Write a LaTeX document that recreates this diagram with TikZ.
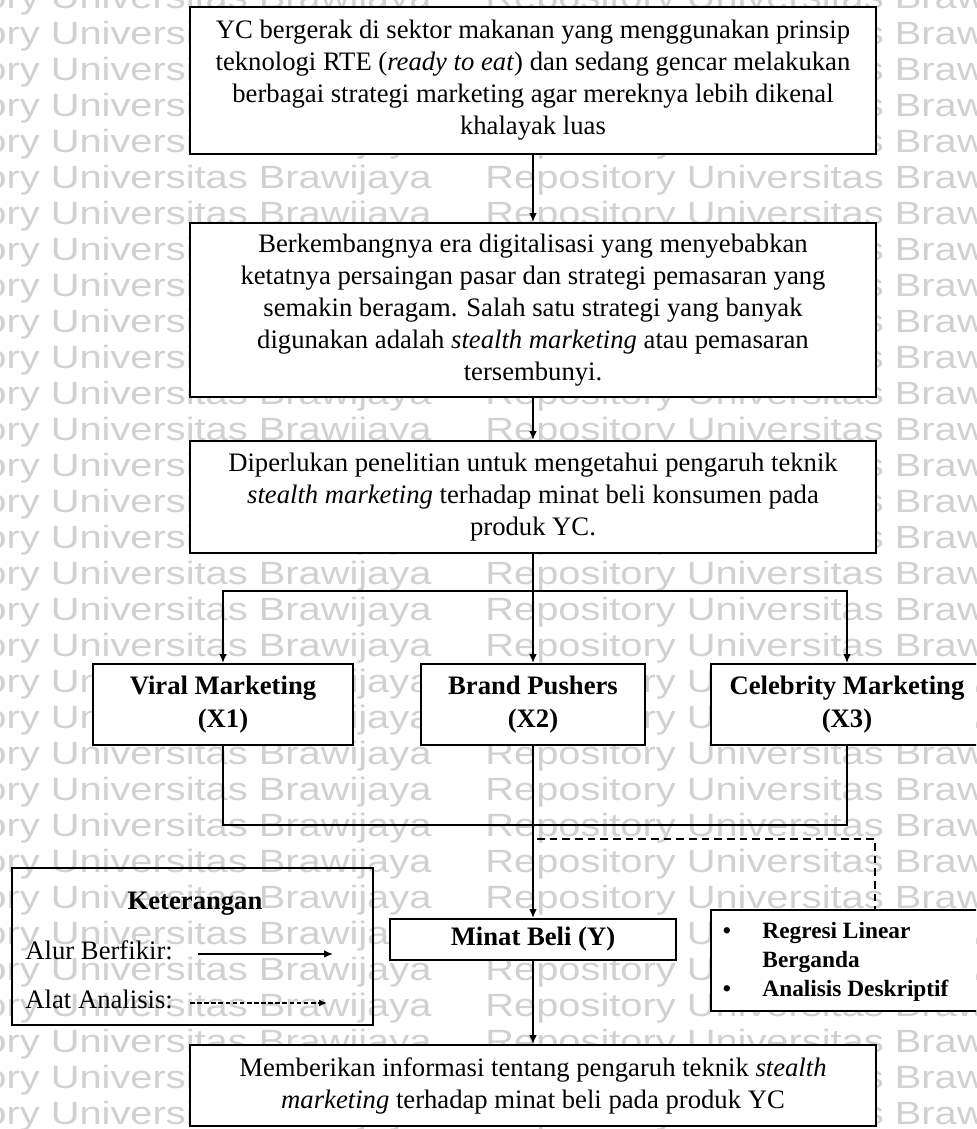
\documentclass[tikz,border=0pt]{standalone}
\usepackage{fontspec}
\setmainfont{Liberation Serif}
\newfontfamily\wmfont[FakeStretch=1.236]{Liberation Sans}
\usetikzlibrary{arrows.meta,calc}
\tikzset{
  wh/.style 2 args={minimum width=#1*0.45pt, minimum height=#2*0.45pt},
  box/.style={draw, line width=0.9pt, fill=white, inner sep=0pt, align=center,
    font=\fontsize{12}{14.4}\selectfont},
  legendbox/.style={draw, line width=0.9pt, inner sep=0pt},
  conn/.style={line width=0.7pt},
  arr/.style={conn, -{Latex[length=4pt,width=3.4pt]}},
  dashline/.style={line width=0.9pt, dash pattern=on 3.4pt off 2.3pt},
  legdash/.style={line width=0.7pt, dash pattern=on 2.1pt off 1.1pt, -{Latex[length=3.6pt,width=3.2pt]}},
  wm/.style={inner sep=0pt, text=black!18, font=\wmfont\fontsize{14.5}{14.5}\selectfont},
  txt/.style={inner sep=0pt, font=\fontsize{12}{14.4}\selectfont},
  rtxt/.style={inner sep=0pt, font=\fontsize{10.5}{13}\selectfont\bfseries},
}
\begin{document}
\begin{tikzpicture}[x=0.45pt,y=-0.45pt]
\useasboundingbox (0,0) rectangle (976,1129);
\clip (0,0) rectangle (976,1129);
\fill[white] (0,0) rectangle (976,1129);
% watermark
\foreach \k in {-5,...,26}{
  \node[wm, anchor=base west] (wma\k) at (-151,{188.5+36*\k}) {Repository Universitas Brawijaya};
  \node[wm, anchor=base west] (wmb\k) at (485,{188.5+36*\k}) {Repository Universitas Brawijaya};
}
% main boxes
\node[box, wh={686}{147}] (b1) at (533,80.5) {YC bergerak di sektor makanan yang menggunakan prinsip\\
teknologi RTE (\textit{ready to eat}) dan sedang gencar melakukan\\
berbagai strategi marketing agar mereknya lebih dikenal\\
khalayak luas};
\node[box, wh={686}{174}] (b2) at (533,310) {Berkembangnya era digitalisasi yang menyebabkan\\
ketatnya persaingan pasar dan strategi pemasaran yang\\
semakin beragam. Salah satu strategi yang banyak\\
digunakan adalah \textit{stealth marketing} atau pemasaran\\
tersembunyi.};
\node[box, wh={686}{112}] (b3) at (533,497) {Diperlukan penelitian untuk mengetahui pengaruh teknik\\
\textit{stealth marketing} terhadap minat beli konsumen pada\\
produk YC.};
\node[box, wh={260}{81}, font=\fontsize{12}{15}\selectfont\bfseries] (x1) at (223,704.5) {Viral Marketing\\(X1)};
\node[box, wh={224}{81}, font=\fontsize{12}{15}\selectfont\bfseries] (x2) at (533,704.5) {Brand Pushers\\(X2)};
\node[box, wh={272}{81}, font=\fontsize{12}{15}\selectfont\bfseries] (x3) at (847,704.5) {Celebrity Marketing\\(X3)};
\node[box, wh={286}{41}, font=\fontsize{12}{14.4}\selectfont\bfseries] (m) at (533,939.5) {Minat Beli (Y)};
\node[box, wh={272}{101}] (r) at (847,960.5) {};
\node[legendbox, wh={361}{157}] (k) at (192.5,946.5) {};
\node[box, wh={686}{81}] (f) at (533,1085.5) {Memberikan informasi tentang pengaruh teknik \textit{stealth}\\
\textit{marketing} terhadap minat beli pada produk YC};
% regresi text
\node[rtxt, anchor=mid] (bu1) at (727,933) {\textbullet};
\node[rtxt, anchor=mid west] (rt1) at (762,933) {Regresi Linear};
\node[rtxt, anchor=mid west] (rt2) at (762,962) {Berganda};
\node[rtxt, anchor=mid] (bu2) at (727,991) {\textbullet};
\node[rtxt, anchor=mid west] (rt3) at (762,991) {Analisis Deskriptif};
% legend text
\node[txt, anchor=mid, font=\fontsize{12}{14.4}\selectfont\bfseries] (kt) at (195,904) {Keterangan};
\node[txt, anchor=mid west] (la) at (25,954) {Alur Berfikir:};
\node[txt, anchor=mid west] (lb) at (25,1003) {Alat Analisis:};
\coordinate (la1) at (198,954);
\coordinate (la2) at (333,954);
\coordinate (lb1) at (190,1003);
\coordinate (lb2) at (327,1003);
\draw[arr] (la1) -- (la2);
\draw[legdash] (lb1) -- (lb2);
% connectors
\draw[arr] (b1.south) -- (b2.north);
\draw[arr] (b2.south) -- (b3.north);
\draw[arr] (b3.south) -- ++(0,37) -| (x1.north);
\draw[arr] (b3.south) -- (x2.north);
\draw[arr] (b3.south) -- ++(0,37) -| (x3.north);
\draw[conn] (x1.south) -- ++(0,79) -| (x3.south);
\draw[arr] (x2.south) -- (m.north);
\draw[arr] (m.south) -- (f.north);
\coordinate (d1) at (537,839);
\draw[dashline] (d1) -| ([xshift=12.6pt]r.north);
\end{tikzpicture}
\end{document}
